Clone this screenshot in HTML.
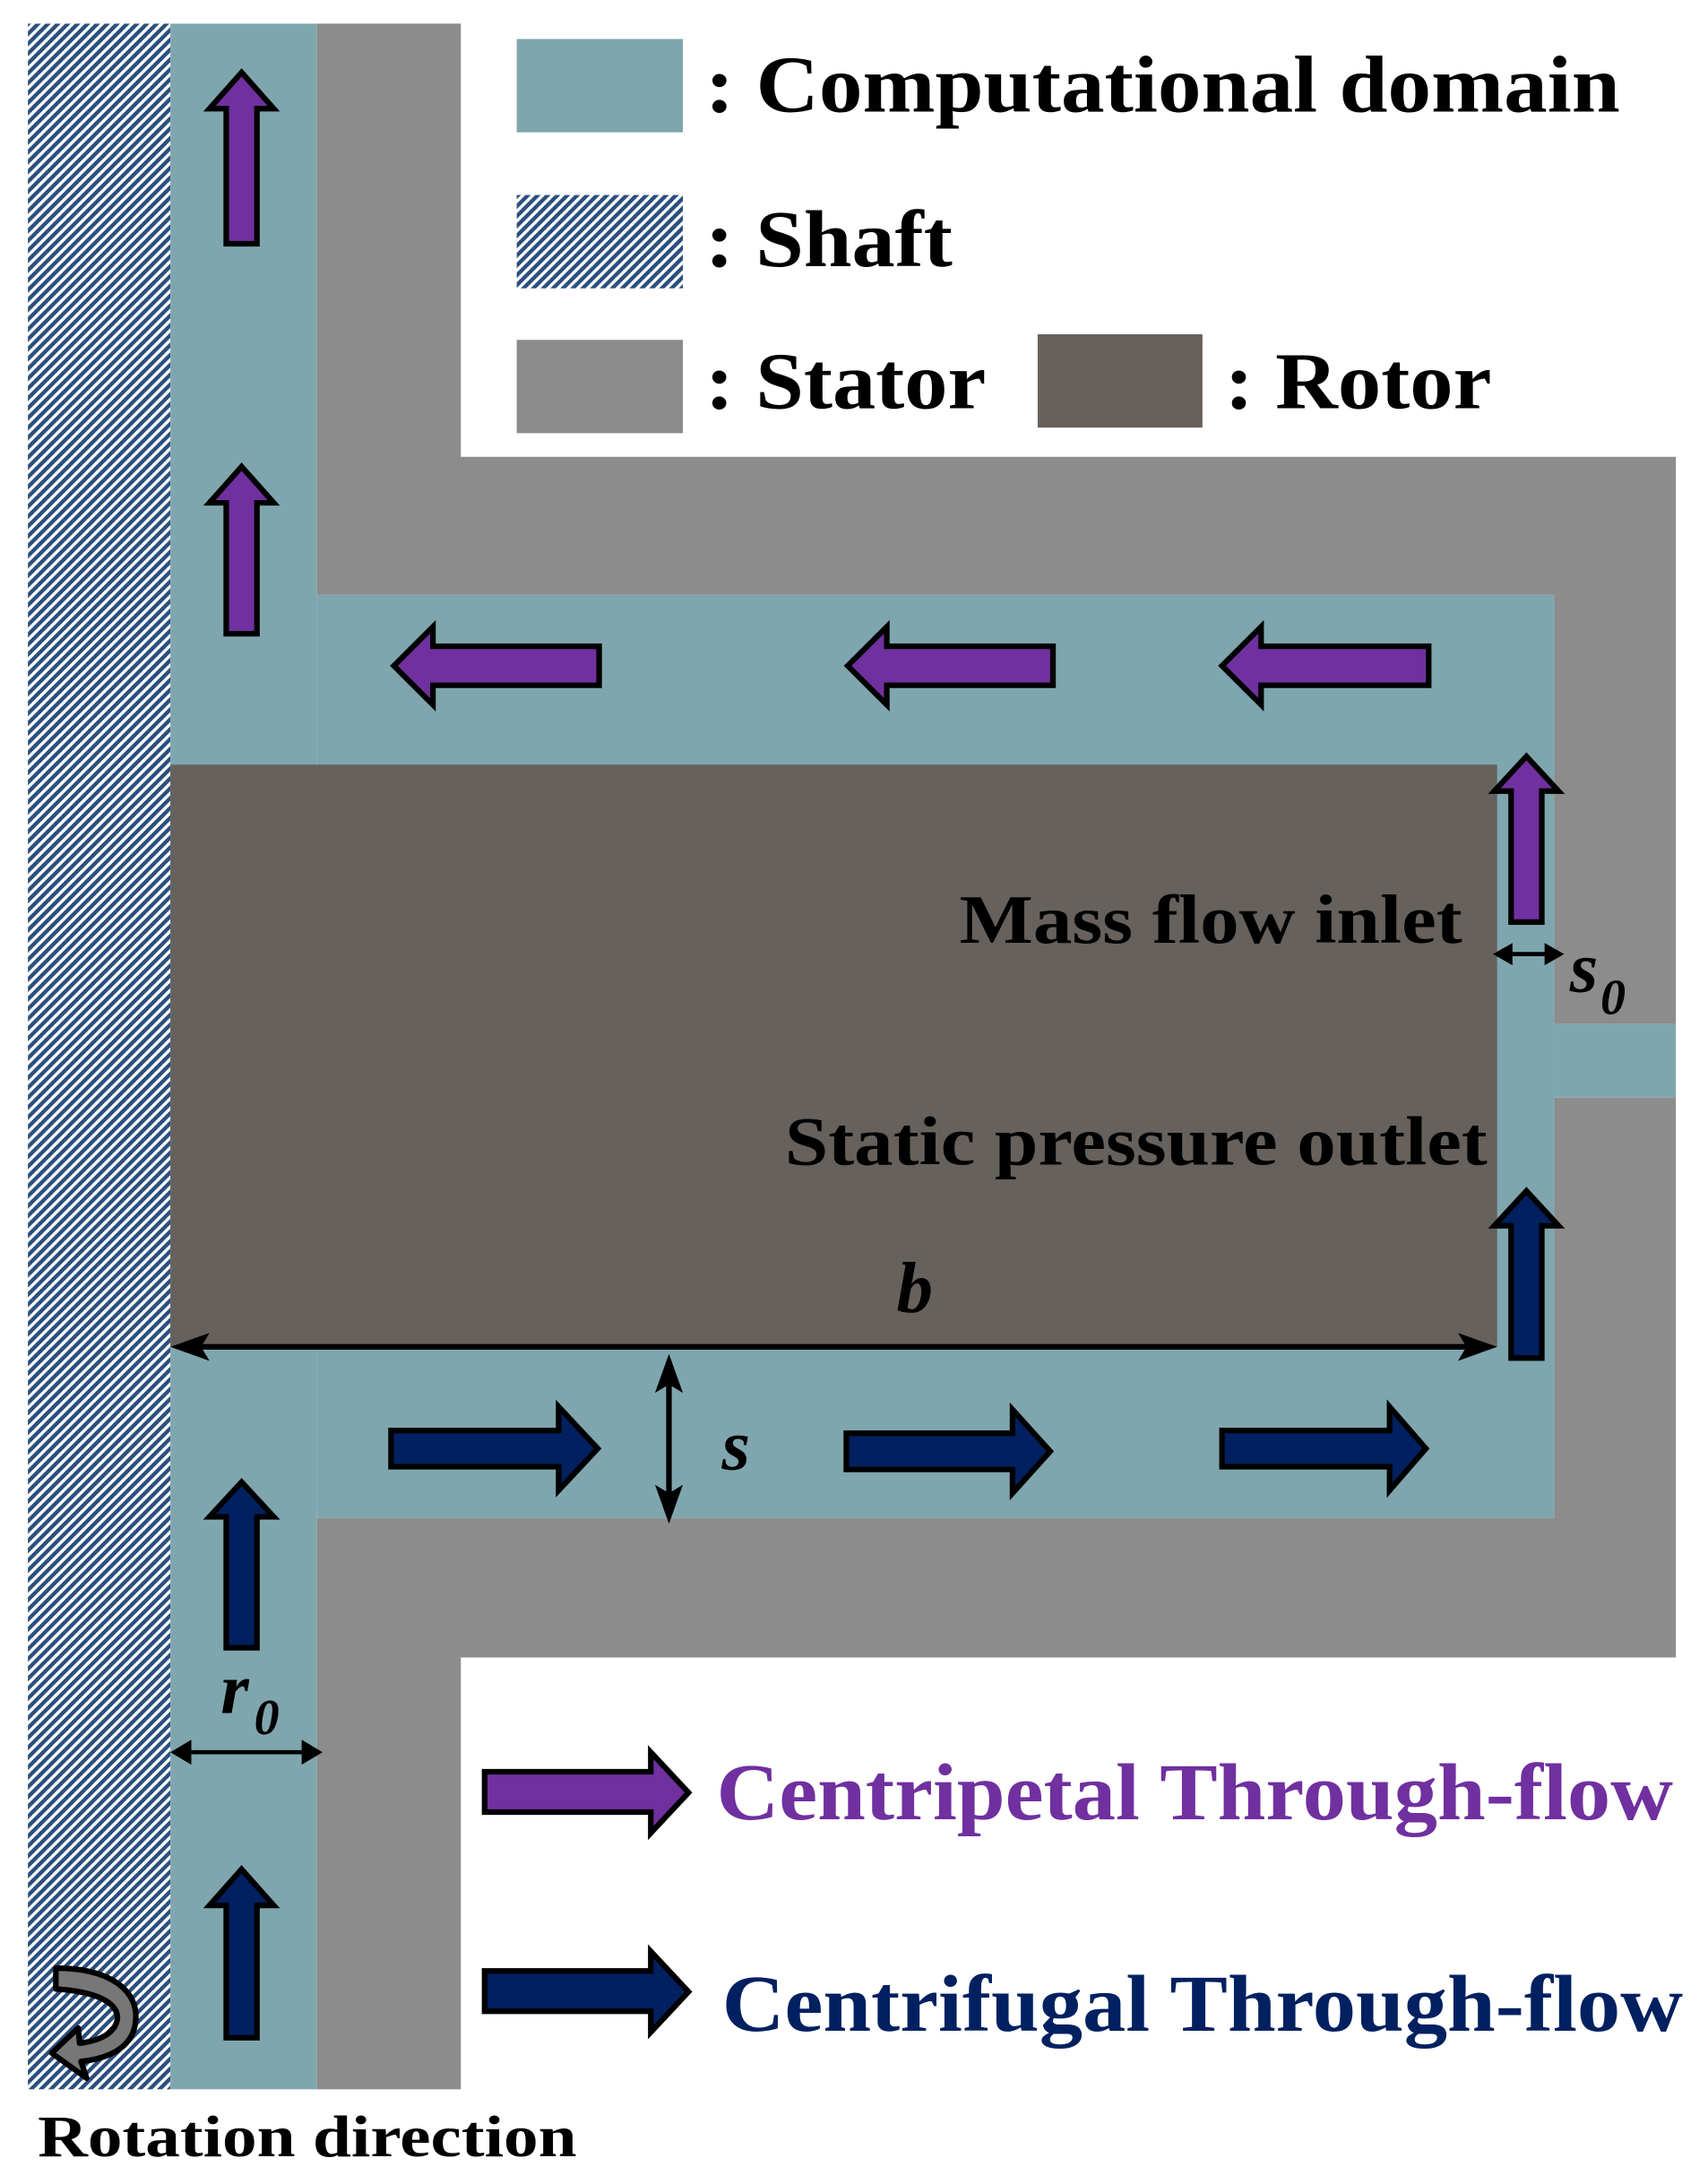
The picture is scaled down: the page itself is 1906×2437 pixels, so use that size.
<!DOCTYPE html>
<html><head><meta charset="utf-8"><style>
html,body{margin:0;padding:0;background:#fff}
svg{display:block}
text{font-family:"Liberation Serif",serif;font-weight:bold}
</style></head><body>
<svg width="1906" height="2437" viewBox="0 0 1223 1568" preserveAspectRatio="none" xmlns="http://www.w3.org/2000/svg">
<defs>
<pattern id="hatch" patternUnits="userSpaceOnUse" width="5" height="5" patternTransform="rotate(45)">
<rect width="5" height="5" fill="#fff"/>
<rect width="2.8" height="5" fill="#2b4f7e"/>
</pattern>
</defs>
<rect width="1223" height="1568" fill="#fff"/>
<!-- shaft -->
<rect x="20" y="17" width="102" height="1483" fill="url(#hatch)"/>
<!-- teal domain -->
<rect x="122" y="17" width="105" height="1483" fill="#7fa6ae"/>
<rect x="227" y="427" width="886" height="663" fill="#7fa6ae"/>
<rect x="1113" y="735" width="87" height="53" fill="#7fa6ae"/>
<!-- stator -->
<path d="M227 17 H330 V328 H1200 V735 H1113 V427 H227 Z" fill="#8c8c8c"/>
<path d="M1113 788 H1200 V1190 H330 V1500 H227 V1090 H1113 Z" fill="#8c8c8c"/>
<!-- rotor -->
<rect x="122" y="549" width="950" height="418" fill="#66615c"/>

<!-- legend -->
<rect x="370" y="28" width="119" height="67" fill="#7fa6ae"/>
<text x="505" y="80" font-size="58" textLength="655" lengthAdjust="spacingAndGlyphs">: Computational domain</text>
<rect x="370" y="140" width="119" height="67" fill="url(#hatch)"/>
<text x="505" y="191" font-size="58" textLength="177" lengthAdjust="spacingAndGlyphs">: Shaft</text>
<rect x="370" y="244" width="119" height="67" fill="#8c8c8c"/>
<text x="505" y="293" font-size="58" textLength="201" lengthAdjust="spacingAndGlyphs">: Stator</text>
<rect x="743" y="240" width="118" height="67" fill="#66615c"/>
<text x="877" y="293" font-size="58" textLength="191" lengthAdjust="spacingAndGlyphs">: Rotor</text>

<g stroke="#000" stroke-width="4" stroke-linejoin="miter">
<!-- purple up arrows left column -->
<path fill="#7030a0" d="M173 52 L196 78 H184 V175 H162 V78 H150 Z"/>
<path fill="#7030a0" d="M173 335 L196 361 H184 V455 H162 V361 H150 Z"/>
<!-- purple left arrows -->
<path fill="#7030a0" d="M282 478 L310 450 V464 H429 V492 H310 V506 Z"/>
<path fill="#7030a0" d="M607 478 L635 450 V464 H754 V492 H635 V506 Z"/>
<path fill="#7030a0" d="M875 478 L903 450 V464 H1023 V492 H903 V506 Z"/>
<!-- purple inlet arrow -->
<path fill="#7030a0" d="M1093 543 L1116 568 H1104 V662 H1082 V568 H1070 Z"/>
<!-- navy outlet arrow -->
<path fill="#002060" d="M1093 855 L1116 880 H1104 V975 H1082 V880 H1070 Z"/>
<!-- navy right arrows -->
<path fill="#002060" d="M428 1040 L400 1010 V1027 H280 V1053 H400 V1070 Z"/>
<path fill="#002060" d="M752 1042 L725 1012 V1029 H606 V1055 H725 V1072 Z"/>
<path fill="#002060" d="M1021 1040 L995 1010 V1027 H875 V1053 H995 V1070 Z"/>
<!-- navy up arrows left column -->
<path fill="#002060" d="M173 1064 L196 1089 H184 V1183 H162 V1089 H150 Z"/>
<path fill="#002060" d="M173 1342 L196 1368 H184 V1463 H162 V1368 H150 Z"/>
<!-- legend arrows -->
<path fill="#7030a0" d="M493 1287 L466 1258 V1272 H347 V1301 H466 V1316 Z"/>
<path fill="#002060" d="M493 1430 L466 1401 V1415 H347 V1444 H466 V1459 Z"/>
</g>

<!-- dimensions -->
<g stroke="#000" stroke-width="4" fill="#000">
<line x1="135" y1="967" x2="1060" y2="967"/>
<line x1="479" y1="985" x2="479" y2="1080"/>
<line x1="1080" y1="685" x2="1108" y2="685" stroke-width="3"/>
<line x1="132" y1="1258" x2="220" y2="1258" stroke-width="3"/>
</g>
<g fill="#000">
<path d="M122 967 L150 957 L144 967 L150 977 Z"/>
<path d="M1072 967 L1044 957 L1050 967 L1044 977 Z"/>
<path d="M479 972 L469 1000 L479 994 L489 1000 Z"/>
<path d="M479 1094 L469 1066 L479 1072 L489 1066 Z"/>
<path d="M1069 685 L1083 677 L1083 693 Z"/>
<path d="M1120 685 L1106 677 L1106 693 Z"/>
<path d="M122 1258 L137 1249 L137 1267 Z"/>
<path d="M231 1258 L216 1249 L216 1267 Z"/>
</g>

<text x="1047" y="677" font-size="50" text-anchor="end" textLength="360" lengthAdjust="spacingAndGlyphs">Mass flow inlet</text>
<text x="1065" y="836" font-size="50" text-anchor="end" textLength="503" lengthAdjust="spacingAndGlyphs">Static pressure outlet</text>
<text x="1124" y="712" font-size="52" font-style="italic">s</text>
<text x="1146" y="728" font-size="36" font-style="italic">0</text>
<text x="655" y="942" font-size="52" font-style="italic" text-anchor="middle">b</text>
<text x="527" y="1055" font-size="52" font-style="italic" text-anchor="middle">s</text>
<text x="158" y="1230" font-size="52" font-style="italic">r</text>
<text x="182" y="1245" font-size="36" font-style="italic">0</text>

<text x="513" y="1306" font-size="58" fill="#7030a0" textLength="685" lengthAdjust="spacingAndGlyphs">Centripetal Through-flow</text>
<text x="517" y="1458" font-size="58" fill="#002060" textLength="688" lengthAdjust="spacingAndGlyphs">Centrifugal Through-flow</text>
<text x="27" y="1548" font-size="42" textLength="386" lengthAdjust="spacingAndGlyphs">Rotation direction</text>

<!-- rotation icon -->
<path d="M40 1413 C80 1413 100 1430 97 1452 C95 1470 78 1478 58 1480 L62 1492 L37 1474 L56 1456 L57 1467 C72 1465 82 1460 84 1450 C85 1438 70 1430 40 1428 Z" fill="#777" stroke="#000" stroke-width="4" stroke-linejoin="round"/>
</svg>
</body></html>
